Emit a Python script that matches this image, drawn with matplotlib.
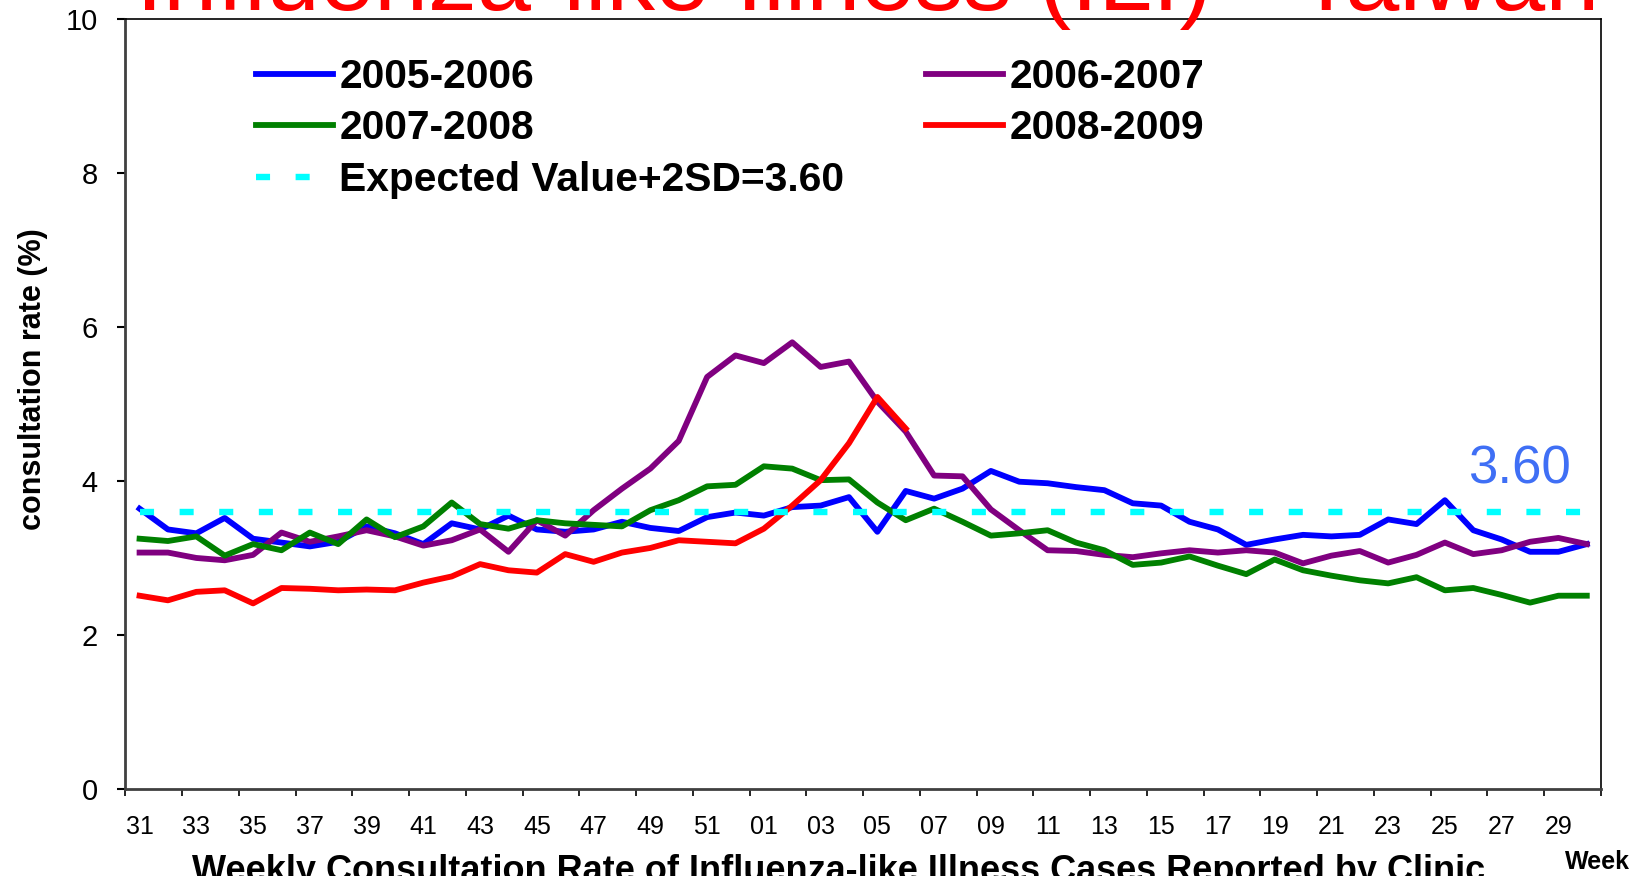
import matplotlib
matplotlib.use('Agg')
import matplotlib.pyplot as plt
import numpy as np

plt.rcParams['font.family'] = ['Liberation Sans', 'DejaVu Sans']
narrow = ['Liberation Sans Narrow', 'Liberation Sans', 'DejaVu Sans']

weeks = ['31', '32', '33', '34', '35', '36', '37', '38', '39', '40', '41', '42', '43',
         '44', '45', '46', '47', '48', '49', '50', '51', '52', '01', '02', '03', '04',
         '05', '06', '07', '08', '09', '10', '11', '12', '13', '14', '15', '16', '17',
         '18', '19', '20', '21', '22', '23', '24', '25', '26', '27', '28', '29', '30']
tick_labels = weeks[::2]

ili_2005 = [3.64, 3.37, 3.32, 3.52, 3.25, 3.20, 3.15, 3.21, 3.41, 3.32, 3.18, 3.45, 3.37,
            3.55, 3.37, 3.34, 3.37, 3.47, 3.39, 3.35, 3.53, 3.59, 3.55, 3.66, 3.68, 3.79,
            3.34, 3.87, 3.77, 3.90, 4.13, 3.99, 3.97, 3.92, 3.88, 3.71, 3.68, 3.47, 3.37,
            3.17, 3.24, 3.30, 3.28, 3.30, 3.50, 3.44, 3.75, 3.36, 3.24, 3.08, 3.08, 3.18]
ili_2006 = [3.07, 3.07, 3.00, 2.97, 3.04, 3.33, 3.21, 3.28, 3.36, 3.28, 3.16, 3.23, 3.37,
            3.08, 3.49, 3.29, 3.62, 3.90, 4.16, 4.52, 5.35, 5.63, 5.53, 5.80, 5.48, 5.55,
            5.03, 4.64, 4.07, 4.06, 3.63, 3.36, 3.10, 3.09, 3.04, 3.01, 3.06, 3.10, 3.07,
            3.10, 3.07, 2.93, 3.03, 3.09, 2.94, 3.04, 3.20, 3.05, 3.10, 3.21, 3.26, 3.18]
ili_2007 = [3.25, 3.22, 3.28, 3.03, 3.18, 3.10, 3.33, 3.18, 3.50, 3.27, 3.41, 3.72, 3.44,
            3.38, 3.49, 3.45, 3.43, 3.41, 3.62, 3.75, 3.93, 3.95, 4.19, 4.16, 4.01, 4.02,
            3.72, 3.49, 3.64, 3.47, 3.29, 3.32, 3.36, 3.20, 3.10, 2.91, 2.94, 3.02, 2.90,
            2.79, 2.98, 2.84, 2.77, 2.71, 2.67, 2.75, 2.58, 2.61, 2.52, 2.42, 2.51, 2.51]
ili_2008 = [2.51, 2.45, 2.56, 2.58, 2.41, 2.61, 2.60, 2.58, 2.59, 2.58, 2.68, 2.76, 2.92,
            2.84, 2.81, 3.05, 2.95, 3.07, 3.13, 3.23, 3.21, 3.19, 3.38, 3.68, 4.01, 4.49,
            5.09, 4.68]
threshold = 3.60

fig = plt.figure(figsize=(16.39, 8.76), dpi=100)
ax = fig.add_axes([0.0765, 0.0993, 0.9003, 0.8792])

x = np.arange(len(weeks))
lw = 4.2
l05, = ax.plot(x, ili_2005, color='#0000FF', lw=lw, label='2005-2006')
l06, = ax.plot(x, ili_2006, color='#800080', lw=lw, label='2006-2007')
l07, = ax.plot(x, ili_2007, color='#008000', lw=lw, label='2007-2008')
l08, = ax.plot(x[:len(ili_2008)], ili_2008, color='#FF0000', lw=lw, label='2008-2009')
lexp, = ax.plot(x, [threshold] * len(x), color='#00FFFF', lw=4.6,
                linestyle=(0, (2.2, 4.0)), dash_capstyle='butt',
                label='Expected Value+2SD=3.60')

ax.text(46.8, 3.97, '3.60', color='#3F6FF5', fontsize=38, ha='left', va='baseline')

ax.set_xlim(-0.5, len(weeks) - 0.5)
ax.set_ylim(0, 10)
ax.set_yticks(np.arange(0, 11, 2))
ax.tick_params(axis='y', direction='out', length=6, width=1.5, pad=14)
for t in ax.get_yticklabels():
    t.set_fontfamily(narrow)
    t.set_fontsize(21)

ax.set_xticks(np.arange(-0.5, len(weeks), 2))
ax.set_xticklabels([])
ax.set_xticks(x[::2], minor=True)
ax.set_xticklabels(tick_labels, minor=True, fontfamily=narrow, fontsize=18)
ax.tick_params(axis='x', which='major', direction='out', length=5, width=1.2)
ax.tick_params(axis='x', which='minor', length=0, pad=19)

for s in ['top', 'right']:
    ax.spines[s].set_color('black')
    ax.spines[s].set_linewidth(1.2)
for s in ['left', 'bottom']:
    ax.spines[s].set_color('#404040')
    ax.spines[s].set_linewidth(2)

leg = fig.legend(handles=[l05, l07, lexp, l06, l08], ncol=2, loc='upper left',
                 bbox_to_anchor=(256 / 1639, 1 - 58 / 876), frameon=False,
                 prop={'weight': 'bold', 'size': 29.3}, handlelength=1.9,
                 handletextpad=0.15, columnspacing=2.0, labelspacing=0.33,
                 borderpad=0, borderaxespad=0)

fig.text(33 / 1639, 1 - 379 / 876, 'consultation rate (%)', rotation=90,
         fontsize=22, fontweight='bold', ha='center', va='center')
fig.text(0.5116, -0.006, 'Weekly Consultation Rate of Influenza-like Illness Cases Reported by Clinic',
         fontsize=26, fontweight='bold', ha='center', va='baseline')
fig.text(0.9744, 0.008, 'Week', fontsize=18, fontweight='bold', ha='center', va='baseline')
fig.text(136 / 1639, 1 - 10 / 876, 'Influenza-like Illness (ILI) - Taiwan',
         color='#FF0000', fontsize=70, ha='left', va='baseline')

fig.savefig('out.png', dpi=100)
